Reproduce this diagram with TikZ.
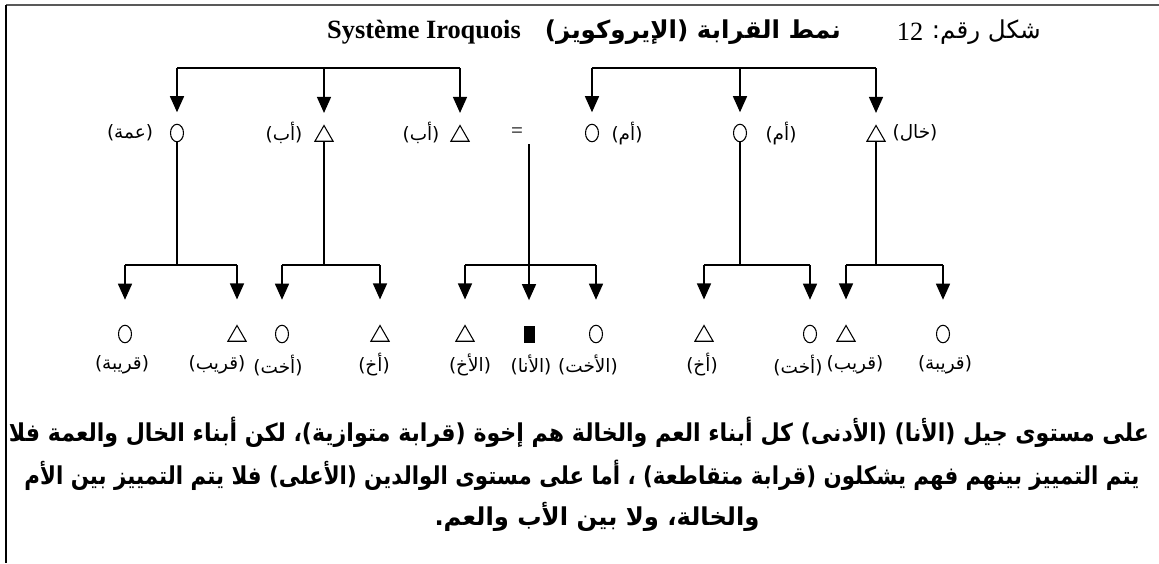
\documentclass[tikz,border=0pt]{standalone}
\usepackage{fontspec}
\setmainfont{Liberation Serif}
\newfontfamily\arabicfont[Script=Arabic]{DejaVu Sans}
\TeXXeTstate=1
\usetikzlibrary{arrows.meta, shapes.geometric, positioning}
\newcommand{\arb}[1]{{\arabicfont\beginR #1\endR}}

\begin{document}
\begin{tikzpicture}[x=0.2mm,y=-0.2mm,
    female/.style={draw, ellipse, line width=0.6pt, minimum width=2.6mm, minimum height=3.5mm, inner sep=0pt},
    male/.style={draw, regular polygon, regular polygon sides=3, line width=0.6pt, minimum size=4.2mm, inner sep=0pt},
    ego/.style={fill=black, minimum width=2.2mm, minimum height=3.4mm, inner sep=0pt},
    kin/.style={font=\fontsize{10.5}{12}\selectfont, inner sep=1pt},
    note/.style={font=\bfseries\fontsize{14}{16}\selectfont, inner sep=0pt},
    link/.style={line width=0.8pt},
    arr/.style={link, -{Triangle[width=2.8mm,length=3.2mm]}, shorten >=#1},
    arr/.default=5mm]
    \useasboundingbox (0,0) rectangle (1159,563);
    \draw[gray!70!black, line width=1.2pt] (1159,5) -- (6,5);
    \draw[line width=0.8pt] (6,5) -- (6,563);
    % title
    \draw (424,32) node[font=\bfseries\fontsize{15}{18}\selectfont] (title_fr) {Système Iroquois};
    \draw (847,32) node[anchor=east, font=\bfseries\fontsize{14}{18}\selectfont] (title_ar) {\arb{نمط القرابة (الإيروكويز)}};
    \draw (910,32) node[font=\fontsize{15}{18}\selectfont] (fig_no) {12};
    \draw (1047,32) node[anchor=east, font=\fontsize{14}{16}\selectfont] (fig_lbl) {\arb{شكل رقم:}};
    % parents
    \draw (177,133) node[female] (g2_0) {};
    \draw (324,136) node[male] (g2_1) {};
    \draw (460,136) node[male] (g2_2) {};
    \draw (517,133) node[font=\fontsize{12}{14}\selectfont] (eq) {=};
    \draw (592,133) node[female] (g2_3) {};
    \draw (740,133) node[female] (g2_4) {};
    \draw (876,136) node[male] (g2_5) {};
    \draw (130,133) node[kin] (l2_0) {\arb{(عمة)}};
    \draw (284,133) node[kin] (l2_1) {\arb{(أب)}};
    \draw (421,133) node[kin] (l2_2) {\arb{(أب)}};
    \draw (627,133) node[kin] (l2_3) {\arb{(أم)}};
    \draw (781,133) node[kin] (l2_4) {\arb{(أم)}};
    \draw (915,133) node[kin] (l2_5) {\arb{(خال)}};
    % ego generation
    \draw (125,334) node[female] (g3_0) {};
    \draw (237,336) node[male] (g3_1) {};
    \draw (282,334) node[female] (g3_2) {};
    \draw (380,336) node[male] (g3_3) {};
    \draw (465,336) node[male] (g3_4) {};
    \draw (529,334) node[ego] (g3_5) {};
    \draw (596,334) node[female] (g3_6) {};
    \draw (704,336) node[male] (g3_7) {};
    \draw (810,334) node[female] (g3_8) {};
    \draw (846,336) node[male] (g3_9) {};
    \draw (943,334) node[female] (g3_10) {};
    \draw (122,365) node[kin] (l3_0) {\arb{(قريبة)}};
    \draw (217,365) node[kin] (l3_1) {\arb{(قريب)}};
    \draw (278,365) node[kin] (l3_2) {\arb{(أخت)}};
    \draw (374,365) node[kin] (l3_3) {\arb{(أخ)}};
    \draw (470,365) node[kin] (l3_4) {\arb{(الأخ)}};
    \draw (531,365) node[kin] (l3_5) {\arb{(الأنا)}};
    \draw (588,365) node[kin] (l3_6) {\arb{(الأخت)}};
    \draw (702,365) node[kin] (l3_7) {\arb{(أخ)}};
    \draw (798,365) node[kin] (l3_8) {\arb{(أخت)}};
    \draw (855,365) node[kin] (l3_9) {\arb{(قريب)}};
    \draw (945,365) node[kin] (l3_10) {\arb{(قريبة)}};
    \coordinate (bar2) at (0,68);
    \coordinate (bar3) at (0,265);
    % father's side and mother's side
    \draw[link] (g2_0 |- bar2) -- (g2_2 |- bar2) (g2_3 |- bar2) -- (g2_5 |- bar2);
    \foreach \i in {0,...,5}
        \draw[arr=2.3mm] (g2_\i |- bar2) -- (g2_\i.north);
    % sibling sets
    \draw[link] (g2_0) -- (g2_0 |- bar3) (g3_0 |- bar3) -- (g3_1 |- bar3);
    \draw[link] (g2_1) -- (g2_1 |- bar3) (g3_2 |- bar3) -- (g3_3 |- bar3);
    \draw[link] (g3_5 |- eq.south) -- (g3_5 |- bar3) (g3_4 |- bar3) -- (g3_6 |- bar3);
    \draw[link] (g2_4) -- (g2_4 |- bar3) (g3_7 |- bar3) -- (g3_8 |- bar3);
    \draw[link] (g2_5) -- (g2_5 |- bar3) (g3_9 |- bar3) -- (g3_10 |- bar3);
    \foreach \i in {0,...,10}
        \draw[arr] (g3_\i |- bar3) -- (g3_\i.north);
    % comment text
    \draw (579,432) node[note] (txt_1) {\resizebox{228mm}{\height}{\arb{على مستوى جيل (الأنا) (الأدنى) كل أبناء العم والخالة هم إخوة (قرابة متوازية)، لكن أبناء الخال والعمة فلا}}};
    \draw (582,475) node[note] (txt_2) {\resizebox{223mm}{\height}{\arb{يتم التمييز بينهم فهم يشكلون (قرابة متقاطعة) ، أما على مستوى الوالدين (الأعلى) فلا يتم التمييز بين الأم}}};
    \draw (597,517) node[note] (txt_3) {\resizebox{65mm}{\height}{\arb{والخالة، ولا بين الأب والعم.}}};
\end{tikzpicture}
\end{document}
